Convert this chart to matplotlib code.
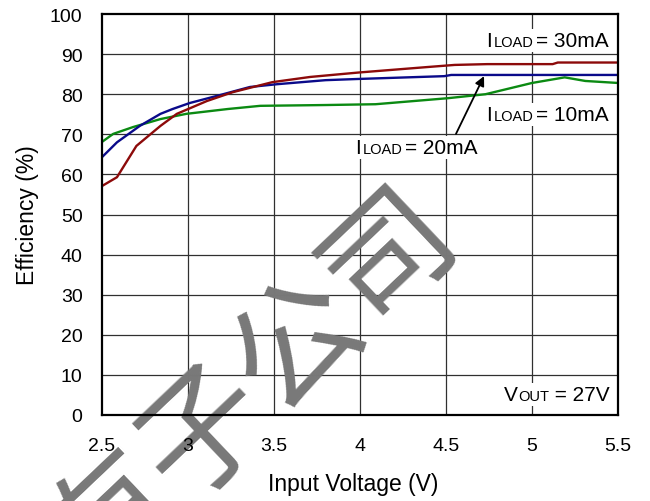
import matplotlib
matplotlib.use("Agg")
import matplotlib.pyplot as plt
from matplotlib.offsetbox import TextArea, HPacker, AnnotationBbox

# Efficiency vs input voltage, VOUT = 27V
v_30 = [2.5, 2.587, 2.70, 2.84, 2.935, 3.11, 3.26, 3.49, 3.71, 3.99, 4.40, 4.55, 4.74, 5.12, 5.15, 5.5]
e_30 = [57.1, 59.3, 67.1, 72.1, 75.1, 78.3, 80.5, 83.0, 84.3, 85.4, 86.8, 87.3, 87.5, 87.5, 87.9, 87.9]

v_20 = [2.5, 2.587, 2.72, 2.84, 2.91, 3.01, 3.17, 3.36, 3.52, 3.80, 3.99, 4.49, 4.53, 5.5]
e_20 = [64.3, 68.0, 72.1, 75.1, 76.3, 77.8, 79.6, 81.8, 82.5, 83.5, 83.8, 84.5, 84.8, 84.8]

v_10 = [2.5, 2.565, 2.68, 2.84, 2.99, 3.23, 3.42, 3.80, 4.09, 4.51, 4.73, 5.0, 5.19, 5.31, 5.5]
e_10 = [68.1, 70.1, 71.8, 73.8, 75.1, 76.3, 77.1, 77.3, 77.5, 79.0, 80.0, 82.8, 84.2, 83.3, 82.8]

x_ticks = [2.5, 3, 3.5, 4, 4.5, 5, 5.5]
x_tick_labels = ["2.5", "3", "3.5", "4", "4.5", "5", "5.5"]
y_ticks = [0, 10, 20, 30, 40, 50, 60, 70, 80, 90, 100]

FONT = "Liberation Sans"
plt.rcParams["font.family"] = [FONT, "DejaVu Sans"]

fig = plt.figure(figsize=(6.5, 5.02), dpi=100)
ax = fig.add_axes([102 / 650, 1 - 416 / 502, 516 / 650, 401 / 502])

ax.set_xlim(2.5, 5.5)
ax.set_ylim(0, 100)

# grid drawn by hand so the watermark can sit between grid and curves
for xv in x_ticks[1:-1]:
    ax.axvline(xv, color="#303030", lw=0.9, zorder=1)
for yv in y_ticks[1:-1]:
    ax.axhline(yv, color="#303030", lw=0.9, zorder=1)

ax.plot(v_10, e_10, color="#0b8a12", lw=1.7, zorder=2)
ax.plot(v_20, e_20, color="#0a0a8a", lw=1.7, zorder=2.1)
ax.plot(v_30, e_30, color="#8c0a0a", lw=1.7, zorder=2.2)

ax.set_xticks(x_ticks)
ax.set_xticklabels(x_tick_labels)
ax.set_yticks(y_ticks)
ax.tick_params(axis="both", length=0, labelsize=14)
ax.tick_params(axis="x", pad=16)
ax.tick_params(axis="y", pad=14)
for s in ax.spines.values():
    s.set_linewidth(1.6)
    s.set_color("black")

ax.set_xlabel("Input Voltage (V)", fontsize=16.5, labelpad=13)
ax.xaxis.label.set_x(0.486)
ax.set_ylabel("Efficiency (%)", fontsize=16.5, labelpad=8)

# watermark
ax.text(253 / 650, 1 - 390 / 502, "有子公司", transform=fig.transFigure,
        fontsize=92, family=["Noto Sans CJK SC"], color="#787878",
        rotation=43.5, rotation_mode="anchor", ha="center", va="center",
        zorder=1.5, clip_on=False)


def label(x, y, main, sub, rest, align=(0.5, 0.5), sep=1.5):
    parts = [
        TextArea(main, textprops=dict(fontsize=15, family=FONT)),
        TextArea(sub, textprops=dict(fontsize=10.5, family=FONT)),
        TextArea(rest, textprops=dict(fontsize=15, family=FONT)),
    ]
    pack = HPacker(children=parts, align="baseline", pad=0, sep=sep)
    ab = AnnotationBbox(pack, (x, y), xycoords="data", box_alignment=align,
                        frameon=True, pad=0.15,
                        bboxprops=dict(facecolor="white", edgecolor="none"))
    ab.set_zorder(4)
    ax.add_artist(ab)


label(5.445, 93.3, "I", "LOAD", "= 30mA", align=(1.0, 0.5))
label(5.445, 75.0, "I", "LOAD", "= 10mA", align=(1.0, 0.5))
label(4.326, 66.8, "I", "LOAD", "= 20mA")
label(5.45, 5.2, "V", "OUT", " = 27V", align=(1.0, 0.5), sep=0)

ax.annotate("", xy=(4.721, 84.5), xytext=(4.558, 70.1),
            arrowprops=dict(arrowstyle="-|>", color="black", lw=1.3,
                            mutation_scale=14, shrinkA=0, shrinkB=0),
            zorder=5)

fig.savefig("out.png", dpi=100)
